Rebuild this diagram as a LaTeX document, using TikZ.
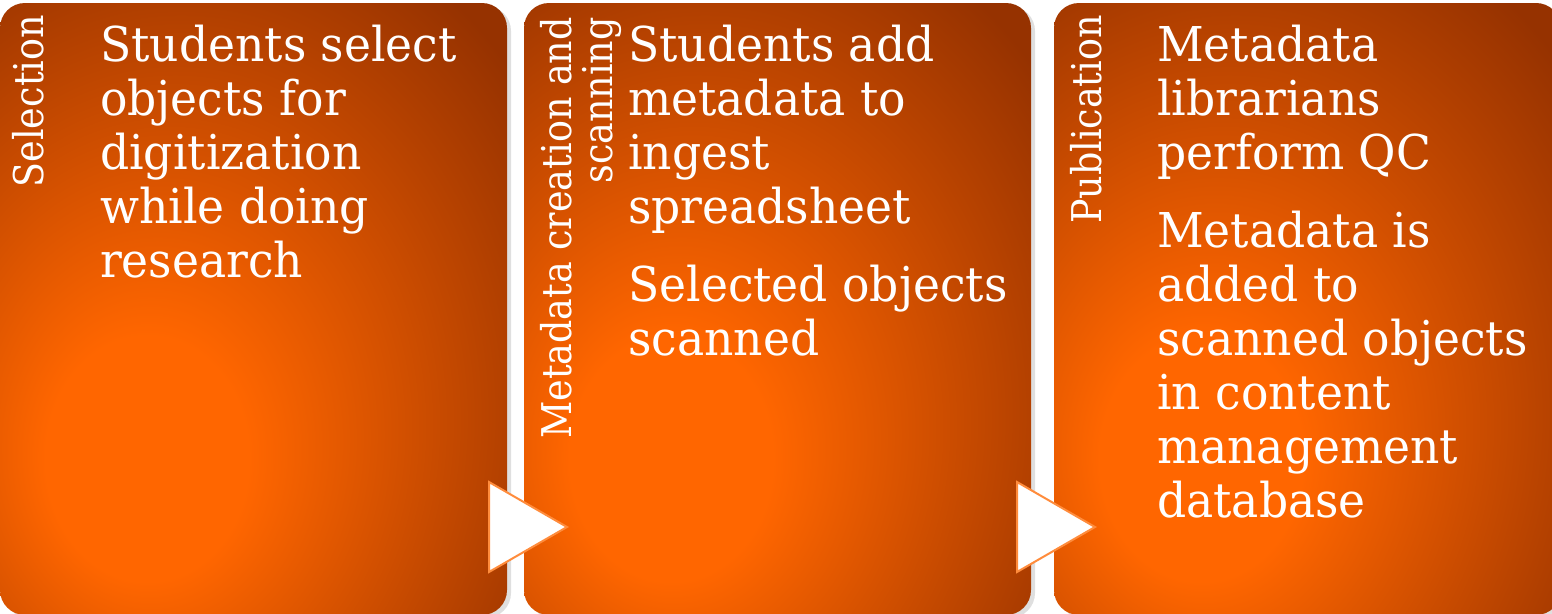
\documentclass[tikz,border=0pt]{standalone}
\usepackage{fontspec}
\setmainfont{DejaVu Serif}[FakeStretch=0.95]
\newfontfamily\titlefont{DejaVu Serif}[FakeStretch=0.89]
\usetikzlibrary{shadows}

\definecolor{stagehi}{RGB}{255,102,0}
\definecolor{stagedk}{RGB}{150,50,0}
\definecolor{arrowline}{RGB}{255,140,60}

\pgfdeclareradialshading{stageglow}{\pgfpoint{-12bp}{-14bp}}{color(0bp)=(stagehi); color(10bp)=(stagehi); color(41bp)=(stagedk); color(80bp)=(stagedk)}

\tikzset{
    stagebox/.style={shading=stageglow, rounded corners=25pt, minimum width=507pt, minimum height=612pt, inner sep=0pt,
        drop shadow={shadow xshift=4pt, shadow yshift=-3pt, opacity=.25}},
    stagetitle/.style={rotate=90, anchor=north east, inner sep=0pt, align=right, text=white,
        font=\titlefont\fontsize{41}{41}\selectfont},
    stagetext/.style={anchor=north west, inner sep=0pt, align=left, text=white,
        font=\fontsize{48}{54}\selectfont},
    steparrow/.style={fill=white, draw=arrowline, line width=2pt}
}

\begin{document}
\begin{tikzpicture}[x=1pt, y=-1pt]
    \useasboundingbox (0, 0) rectangle (1552, 613);
    % the three stages
    \node[stagebox] (sel) at (253.5, 309) {};
    \node[stagebox] (meta) at (777.5, 309) {};
    \node[stagebox] (pub) at (1307.5, 309) {};

    \node[stagetitle] (seltitle) at (12, 15) {Selection};
    \node[stagetitle] (metatitle) at (540, 17) {Metadata creation and\\scanning};
    \node[stagetitle] (pubtitle) at (1070, 15) {Publication};

    \node[stagetext] (seltext) at (100, 25) {Students select\\objects for\\digitization\\while doing\\research};
    \node[stagetext] (metatext) at (628, 25) {Students add\\metadata to\\ingest\\spreadsheet\\[24pt]Selected objects\\scanned};
    \node[stagetext] (pubtext) at (1157, 25) {Metadata\\librarians\\perform QC\\[24pt]Metadata is\\added to\\scanned objects\\in content\\management\\database};

    % arrows between the stages
    \foreach \x in {489, 1017}
        \filldraw[steparrow] (\x, 482) -- (\x, 572) -- (\x + 78, 527) -- cycle;
\end{tikzpicture}
\end{document}
